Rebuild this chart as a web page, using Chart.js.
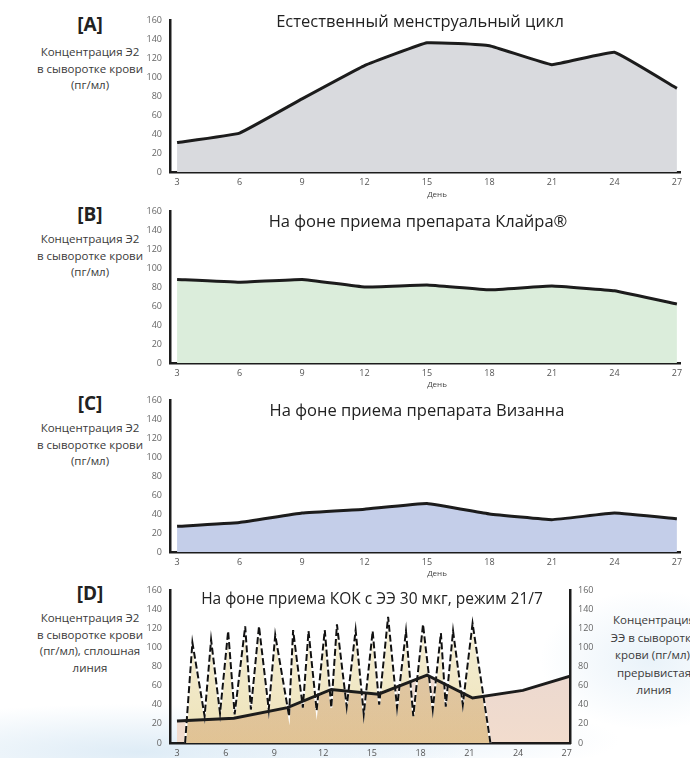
<!DOCTYPE html>
<html>
<head>
<meta charset="utf-8">
<script src="https://cdn.jsdelivr.net/npm/chart.js@4.4.1/dist/chart.umd.min.js"></script>
<style>
  body {
    margin: 0; width: 690px; height: 758px; overflow: hidden; position: relative;
    font-family: "Open Sans", sans-serif; color: #333;
    background:
      radial-gradient(ellipse 330px 48px at 140px 752px, rgba(200,223,240,0.6), rgba(200,223,240,0) 100%),
      radial-gradient(ellipse 220px 36px at 400px 740px, rgba(212,230,244,0.45), rgba(212,230,244,0) 100%),
      radial-gradient(ellipse 110px 70px at 650px 660px, rgba(212,230,244,0.5), rgba(212,230,244,0) 100%),
      #fff;
  }
  .panel { position: absolute; left: 120px; width: 570px; }
  .label { position: absolute; left: 20px; width: 140px; text-align: center;
           font-size: 11.5px; line-height: 16.5px; color: #3a3a3a; }
  .label b { display: block; font-size: 19px; line-height: 24px; color: #222; margin-bottom: 5px; }
  .rlabel { position: absolute; left: 604px; width: 100px; text-align: center;
            font-size: 11.5px; line-height: 17.5px; color: #3a3a3a; }
  .title { position: absolute; font-size: 16.5px; color: #222; white-space: nowrap;
           transform: translate(-50%, -50%); }
  .den { position: absolute; left: 437px; font-size: 8px; color: #444; transform: translate(-50%, -50%); }
</style>
</head>
<body>

<div class="label" style="top:12px"><b style="margin-bottom:8px">[A]</b>Концентрация Э2<br>в сыворотке крови<br>(пг/мл)</div>
<div class="label" style="top:202px"><b>[B]</b>Концентрация Э2<br>в сыворотке крови<br>(пг/мл)</div>
<div class="label" style="top:391px"><b>[C]</b>Концентрация Э2<br>в сыворотке крови<br>(пг/мл)</div>
<div class="label" style="top:581px"><b>[D]</b>Концентрация Э2<br>в сыворотке крови<br>(пг/мл), сплошная<br>линия</div>
<div class="rlabel" style="top:611px">Концентрация<br>ЭЭ в сыворотке<br>крови (пг/мл),<br>прерывистая<br>линия</div>

<canvas class="panel" id="chartA" style="top:0px" width="570" height="200"></canvas>
<canvas class="panel" id="chartB" style="top:191px" width="570" height="200"></canvas>
<canvas class="panel" id="chartC" style="top:380px" width="570" height="200"></canvas>
<canvas class="panel" id="chartD" style="top:570px" width="570" height="188"></canvas>

<div class="title" style="left:420px; top:20px">Естественный менструальный цикл</div>
<div class="title" style="left:418px; top:220px">На фоне приема препарата Клайра®</div>
<div class="title" style="left:417px; top:409px">На фоне приема препарата Визанна</div>
<div class="title" style="left:372px; top:598px; font-size:15.5px">На фоне приема КОК с ЭЭ 30 мкг, режим 21/7</div>

<div class="den" style="top:193px">День</div>
<div class="den" style="top:383px">День</div>
<div class="den" style="top:572px">День</div>

<script>
// days of the cycle shown on the x axis
const dayTicks = [3, 6, 9, 12, 15, 18, 21, 24, 27];

// E2, pg/ml
const naturalE2 = [31, 41, 77, 112, 136, 133, 113, 126, 88];
const klairaE2 = [88, 85, 88, 80, 82, 77, 81, 76, 62];
const visanneE2 = [27, 31, 41, 45, 51, 40, 34, 41, 35];

// COC panel: solid E2 line
const cocDays = [3, 6.5, 9.8, 12.5, 15.4, 18.4, 21.2, 24.3, 27.2];
const cocE2 = [23, 26, 37, 56, 51, 71, 47, 55, 70];

// COC panel: dashed EE line (daily peaks)
const eeDays = [3.5, 3.95, 4.7, 5.1, 5.65, 6.15, 6.55, 7.2, 7.55, 8.05, 8.65, 9.05, 9.9,
  10.15, 10.75, 11.1, 11.6, 12.1, 12.5, 12.85, 13.45, 14.0, 14.5, 15.05, 15.45, 16.0,
  16.55, 17.1, 17.55, 18.15, 18.75, 19.25, 19.55, 20.0, 20.6, 21.2, 22.3];
const eeValues = [0, 105, 28, 108, 31, 117, 30, 122, 35, 122, 35, 113, 28,
  118, 37, 117, 34, 118, 37, 124, 38, 118, 30, 117, 40, 132,
  37, 117, 28, 124, 35, 115, 38, 117, 40, 125, 0];

const axisColor = '#1c1c1c';
const tickFont = { family: 'Open Sans', size: 9 };

const toPoints = (xs, ys) => xs.map((x, i) => ({ x, y: ys[i] }));

function dayAxis(min, max, h) {
  return {
    type: 'linear', min, max,
    afterBuildTicks: s => { s.ticks = dayTicks.map(v => ({ value: v })); },
    afterFit: s => { s.height = h; },
    grid: { display: false, drawTicks: false },
    border: { display: true, color: axisColor, width: 2.5 },
    ticks: { color: '#555', font: tickFont, padding: 5, maxRotation: 0, autoSkip: false }
  };
}

function e2Axis(position, w) {
  return {
    position, min: 0, max: 160,
    afterFit: s => { s.width = w; },
    grid: { display: false, drawTicks: false },
    border: { display: true, color: axisColor, width: 2.5 },
    ticks: { stepSize: 20, color: '#666', font: tickFont, padding: 8 }
  };
}

function simpleChart(id, values, fillColor) {
  new Chart(document.getElementById(id), {
    type: 'line',
    data: {
      datasets: [{
        data: toPoints(dayTicks, values),
        borderColor: axisColor,
        borderWidth: 3,
        backgroundColor: fillColor,
        fill: 'origin',
        pointRadius: 0,
        tension: 0.08
      }]
    },
    options: {
      responsive: false,
      animation: false,
      layout: { padding: { top: 20, right: 10, left: 0, bottom: 0 } },
      plugins: { legend: { display: false }, tooltip: { enabled: false } },
      scales: {
        x: dayAxis(2.66, 27.15, 28),
        y: e2Axis('left', 50)
      }
    }
  });
}

simpleChart('chartA', naturalE2, '#d9dade');
simpleChart('chartB', klairaE2, '#dbeddb');
simpleChart('chartC', visanneE2, '#c4cee9');

// vertical gradient helper for the COC fills
function vGrad(top, bottom) {
  return (context) => {
    const area = context.chart.chartArea;
    if (!area) return bottom;
    const g = context.chart.ctx.createLinearGradient(0, area.top, 0, area.bottom);
    g.addColorStop(0, top);
    g.addColorStop(1, bottom);
    return g;
  };
}

// E2 fill is multiplied onto the EE fill so the overlap turns tan
const multiplyFill = {
  id: 'multiplyFill',
  afterDatasetDraw(chart, args) {
    const label = chart.data.datasets[args.index].label;
    if (label === 'ee-fill') chart.ctx.globalCompositeOperation = 'multiply';
    if (label === 'e2-fill') chart.ctx.globalCompositeOperation = 'source-over';
  }
};

const eePts = toPoints(eeDays, eeValues);
const e2Pts = toPoints(cocDays, cocE2);

new Chart(document.getElementById('chartD'), {
  type: 'line',
  data: {
    datasets: [
      { label: 'ee-fill', data: eePts, yAxisID: 'y1', fill: 'origin',
        backgroundColor: vGrad('#f7f2de', '#ede2b8'), borderColor: 'transparent', borderWidth: 0,
        pointRadius: 0, order: 5 },
      { label: 'e2-fill', data: e2Pts, yAxisID: 'y', fill: 'origin',
        backgroundColor: vGrad('#e4d5d3', '#f2dccd'), borderColor: 'transparent', borderWidth: 0,
        pointRadius: 0, order: 4 },
      { label: 'ee-white', data: eePts, yAxisID: 'y1', fill: false,
        borderColor: '#ffffff', borderWidth: 2, pointRadius: 0, order: 3 },
      { label: 'ee-dash', data: eePts, yAxisID: 'y1', fill: false,
        borderColor: '#111', borderWidth: 2, borderDash: [7, 3], pointRadius: 0, order: 2 },
      { label: 'e2-line', data: e2Pts, yAxisID: 'y', fill: false,
        borderColor: axisColor, borderWidth: 3, pointRadius: 0, order: 1 }
    ]
  },
  options: {
    responsive: false,
    animation: false,
    layout: { padding: { top: 20, right: 0, left: 0, bottom: 0 } },
    plugins: { legend: { display: false }, tooltip: { enabled: false } },
    scales: {
      x: dayAxis(2.57, 27.2, 15),
      y: e2Axis('left', 50),
      y1: e2Axis('right', 120)
    }
  },
  plugins: [multiplyFill]
});
</script>
</body>
</html>
